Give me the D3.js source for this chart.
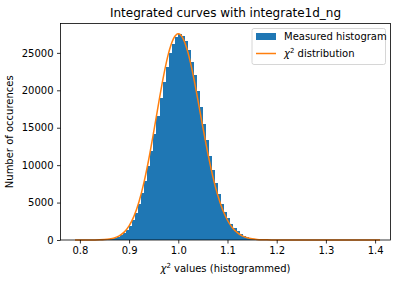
<!DOCTYPE html>
<html><head><meta charset="utf-8">
<script src="https://cdn.jsdelivr.net/npm/d3@7"></script>
<style>body{margin:0;background:#fff}svg{display:block}text{font-family:"DejaVu Sans",sans-serif;fill:#000}</style>
</head><body><div id="c"></div>
<script>
// Histogram: bin left edge of first bin, bin width, counts per bin
const binStart = 0.788;
const binWidth = 0.00621;
const counts = [0,0,1,2,3,5,8,14,22,35,53,98,160,250,407,605,921,1354,1874,2673,
  3610,4781,6250,7874,9836,11952,14212,16579,18920,21173,23157,24973,26195,27057,27481,27192,26587,25401,23844,22062,
  19931,17756,15515,13354,11258,9367,7662,6101,4873,3771,2881,2188,1594,1183,848,589,422,284,194,131,
  82,56,35,21,14,9,6,4,3,2,1,0,0,0,0,0,0,0,0,0,
  0,0,0,0,0,0,0,0,0,0,0,0,0,0,0,0,0,0,0,0];
// chi2 distribution curve
const curveX = [0.79,0.80,0.81,0.82,0.83,0.84,0.85,0.86,0.87,0.88,0.89,0.90,0.91,0.92,0.93,0.94,0.95,0.96,0.97,0.98,0.99,
  1.00,1.01,1.02,1.03,1.04,1.05,1.06,1.07,1.08,1.09,1.10,1.11,1.12,1.13,1.14,1.15,1.16,1.17,1.18,1.19,1.20,
  1.21,1.22,1.23,1.24,1.25,1.26,1.27,1.28,1.29,1.30,1.31,1.32,1.33,1.34,1.35,1.36,1.37,1.38,1.39,1.40,1.41];
const curveY = [0,0,1,3,8,21,53,124,269,550,1052,1891,3194,5083,7621,10786,14431,18266,21900,24894,26865,
  27550,26874,24961,22096,18660,15045,11593,8543,6025,4072,2637,1640,978,560,309,164,83,41,19,9,4,
  2,1,0,0,0,0,0,0,0,0,0,0,0,0,0,0,0,0,0,0,0];
const xTicks = [0.8,0.9,1.0,1.1,1.2,1.3,1.4];
const yTicks = [0,5000,10000,15000,20000,25000];
const xDomain = [0.7606, 1.4313];
const yDomain = [0, 28924];

const W=401,H=284, L=60.5, R=390.5, T=23.5, B=240;
const svg=d3.select("#c").append("svg").attr("width",W).attr("height",H);
const x=d3.scaleLinear().domain(xDomain).range([L,R]);
const y=d3.scaleLinear().domain(yDomain).range([B,T]);

const bins = counts.map((c,i)=>({x0:binStart+i*binWidth,x1:binStart+(i+1)*binWidth,c}));
svg.append("g").attr("shape-rendering","crispEdges").selectAll("rect").data(bins.filter(d=>d.c>0)).join("rect")
  .attr("x",d=>x(d.x0)).attr("width",d=>x(d.x1)-x(d.x0)+0.6)
  .attr("y",d=>y(d.c)).attr("height",d=>B-y(d.c)).attr("fill","#1f77b4");

const pts = curveX.map((v,i)=>[v,curveY[i]]);
svg.append("path").datum(pts).attr("fill","none").attr("stroke","#ff7f0e").attr("stroke-width",1.5)
  .attr("d",d3.line().x(d=>x(d[0])).y(d=>y(d[1])).curve(d3.curveMonotoneX));

const xa=svg.append("g").attr("transform",`translate(0,${B})`)
  .call(d3.axisBottom(x).tickValues(xTicks).tickFormat(d3.format(".1f")).tickSizeOuter(0).tickSize(3.5).tickPadding(3.5));
const ya=svg.append("g").attr("transform",`translate(${L},0)`)
  .call(d3.axisLeft(y).tickValues(yTicks).tickFormat(d3.format("d")).tickSizeOuter(0).tickSize(3.5).tickPadding(3.5));
[xa,ya].forEach(a=>{a.select(".domain").remove();a.selectAll("line").attr("stroke","#000").attr("stroke-width",0.8);
  a.selectAll("text").attr("font-size",10).attr("font-family","DejaVu Sans").attr("fill","#000");});

svg.append("rect").attr("x",L).attr("y",T).attr("width",R-L).attr("height",B-T)
  .attr("fill","none").attr("stroke","#000").attr("stroke-width",0.8);

svg.append("text").attr("x",(L+R)/2).attr("y",16.5).attr("text-anchor","middle").attr("font-size",12)
  .text("Integrated curves with integrate1d_ng");
const xl=svg.append("text").attr("x",(L+R)/2).attr("y",272).attr("text-anchor","middle").attr("font-size",10);
xl.append("tspan").attr("font-style","italic").text("χ");
xl.append("tspan").attr("font-size",7).attr("dy",-4).text("2");
xl.append("tspan").attr("dy",4).text(" values (histogrammed)");
svg.append("text").attr("transform",`translate(13,${(T+B)/2}) rotate(-90)`).attr("text-anchor","middle")
  .attr("font-size",10).text("Number of occurences");

// legend
const lg=svg.append("g");
lg.append("rect").attr("x",252).attr("y",28.5).attr("width",133.5).attr("height",36).attr("rx",2)
  .attr("fill","#fff").attr("fill-opacity",0.8).attr("stroke","#ccc").attr("stroke-width",0.8);
lg.append("rect").attr("x",256).attr("y",33).attr("width",20).attr("height",7).attr("fill","#1f77b4");
lg.append("text").attr("x",284).attr("y",40).attr("font-size",10).text("Measured histogram");
lg.append("line").attr("x1",256).attr("x2",276).attr("y1",53.5).attr("y2",53.5).attr("stroke","#ff7f0e").attr("stroke-width",1.5);
const lt=lg.append("text").attr("x",284).attr("y",57).attr("font-size",10);
lt.append("tspan").attr("font-style","italic").text("χ");
lt.append("tspan").attr("font-size",7).attr("dy",-4).text("2");
lt.append("tspan").attr("dy",4).text(" distribution");
</script></body></html>
